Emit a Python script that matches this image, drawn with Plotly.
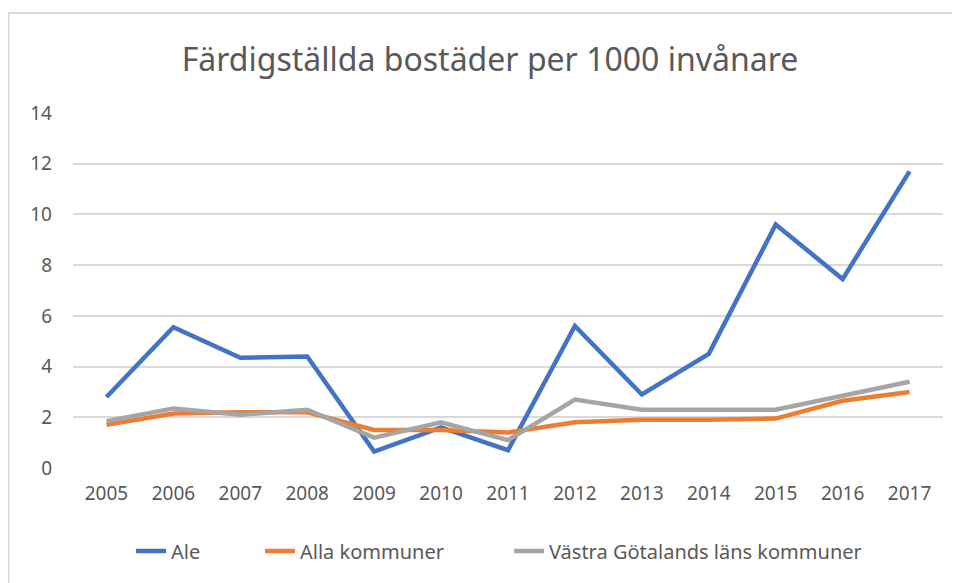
import plotly.graph_objects as go

years = ['2005', '2006', '2007', '2008', '2009', '2010', '2011',
         '2012', '2013', '2014', '2015', '2016', '2017']
ale = [2.8, 5.55, 4.35, 4.4, 0.65, 1.6, 0.7, 5.6, 2.9, 4.5, 9.6, 7.45, 11.7]
alla_kommuner = [1.7, 2.15, 2.2, 2.2, 1.5, 1.5, 1.4, 1.8, 1.9, 1.9, 1.95, 2.65, 3.0]
vastra_gotaland = [1.85, 2.35, 2.1, 2.3, 1.2, 1.8, 1.1, 2.7, 2.3, 2.3, 2.3, 2.85, 3.4]

series = [
    ('Ale', ale, '#4472C4'),
    ('Alla kommuner', alla_kommuner, '#ED7D31'),
    ('Västra Götalands läns kommuner', vastra_gotaland, '#A5A5A5'),
]

font_name = 'Noto Sans'
grey_text = '#595959'

# page has an 8px body margin, so the figure is a bit smaller than the window
W, H = 952, 575
plot_left, plot_width = 73, 870
plot_bottom, plot_height = 468, 355

def px_to_paper_x(px):
    return (px - plot_left) / plot_width

def px_to_paper_y(py):
    return (plot_bottom - py) / plot_height

legend_x = [px_to_paper_x(p) for p in (131, 260, 509)]
legend_names = ['legend', 'legend2', 'legend3']

layout = go.Layout(
    title={'text': 'Färdigställda bostäder per 1000 invånare',
           'x': (490 - 8) / W, 'xanchor': 'center',
           'y': 1 - (60 - 8) / H, 'yanchor': 'middle',
           'font': {'family': font_name, 'size': 32, 'color': grey_text}},
    template='plotly_white',
    width=W, height=H,
    margin={'l': plot_left - 8, 'r': 17, 't': 113 - 8, 'b': 115},
    paper_bgcolor='white',
    plot_bgcolor='white',
    font={'family': font_name, 'size': 19, 'color': grey_text},
    showlegend=True,
)

fig = go.Figure(layout=layout)

for (name, vals, color), lg in zip(series, legend_names):
    fig.add_trace(go.Scatter(x=years,
                             y=vals,
                             mode='lines',
                             line={'color': color, 'width': 4.5},
                             name=name,
                             legend=lg
                             )
                  )

for lg, lx in zip(legend_names, legend_x):
    fig.update_layout({lg: {'orientation': 'h', 'x': lx, 'xanchor': 'left',
                            'y': px_to_paper_y(551), 'yanchor': 'middle',
                            'font': {'size': 20, 'color': grey_text},
                            'bgcolor': 'rgba(0,0,0,0)', 'borderwidth': 0}})

fig.update_xaxes(type='category', range=[-0.5, 12.5],
                 showgrid=False, zeroline=False,
                 showline=False, ticks='',
                 ticklabelstandoff=12,
                 tickfont={'size': 19, 'color': grey_text})
fig.update_yaxes(range=[0, 14], dtick=2, tick0=0,
                 showgrid=True, gridcolor='#D9D9D9', gridwidth=1.5,
                 zeroline=False, showline=False, ticks='',
                 ticklabelstandoff=20,
                 tickfont={'size': 19, 'color': grey_text})

# outer chart border like the spreadsheet frame
fig.add_shape(type='rect', xref='paper', yref='paper',
              x0=px_to_paper_x(8.5), x1=1.1,
              y0=-0.6, y1=px_to_paper_y(13),
              line={'color': '#D9D9D9', 'width': 2},
              fillcolor='rgba(0,0,0,0)', layer='below')

fig.write_html('out.html')
